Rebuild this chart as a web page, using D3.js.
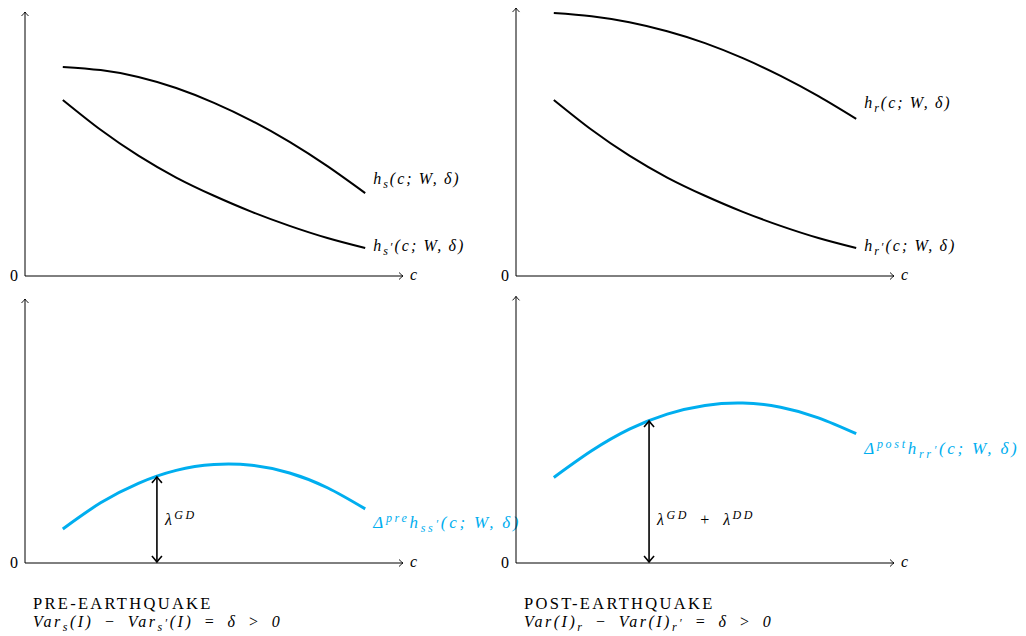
<!DOCTYPE html>
<html>

<head>
    <meta charset="utf-8">
    <script src="https://d3js.org/d3.v7.min.js"></script>
    <style>
        body { margin: 0; background: #fff; }
        svg text {
            font-family: "Liberation Serif", serif;
            font-size: 16px;
            fill: #000;
        }
        .math { font-style: italic; letter-spacing: 2px; }
        .blue { fill: #00aeef; font-size: 17px; letter-spacing: 2.7px; }
        .caption { font-size: 16.5px; letter-spacing: 2.3px; }
        .wide { letter-spacing: 2.5px; }
    </style>
</head>

<body>
    <div id="my_dataviz"></div>
    <script>

        // c values where all curves are read
        const cs = [1, 2, 3, 4, 5, 6, 7, 8, 9];

        // top panels (h functions)
        const hS = [7.92, 7.80, 7.54, 7.12, 6.56, 5.88, 5.08, 4.16, 3.14];
        const hSp = [6.67, 5.54, 4.56, 3.73, 3.04, 2.43, 1.90, 1.44, 1.06];
        const hR = [9.96, 9.84, 9.61, 9.27, 8.82, 8.25, 7.58, 6.81, 5.95];
        const hRp = [6.67, 5.54, 4.56, 3.73, 3.04, 2.43, 1.90, 1.44, 1.06];

        // bottom panels (differences)
        const dPre = [1.29, 2.28, 3.02, 3.51, 3.73, 3.70, 3.41, 2.85, 2.05];
        const dPost = [3.24, 4.25, 5.07, 5.64, 5.97, 6.06, 5.90, 5.50, 4.90];

        // gap arrows: [c, value]
        const gapPre = [3.49, 3.3];
        const gapPost = [3.52, 5.42];

        const width = 1026, height = 636;
        const pw = 378, ph = 264;
        const sp = "\u2002"; // operator spacing

        const svg = d3.select("#my_dataviz")
            .append("svg")
            .attr("width", width)
            .attr("height", height);

        const defs = svg.append("defs");
        defs.append("marker")
            .attr("id", "tip")
            .attr("viewBox", "-6 -5 8 10")
            .attr("markerWidth", 8).attr("markerHeight", 10)
            .attr("markerUnits", "userSpaceOnUse")
            .attr("orient", "auto")
            .append("path")
            .attr("d", "M-4,-3.5 Q-1.5,-1 0,0 Q-1.5,1 -4,3.5")
            .attr("fill", "none").attr("stroke", "#000").attr("stroke-width", 0.9);
        defs.append("marker")
            .attr("id", "bigtip")
            .attr("viewBox", "-8 -6 10 12")
            .attr("markerWidth", 10).attr("markerHeight", 12)
            .attr("markerUnits", "userSpaceOnUse")
            .attr("orient", "auto-start-reverse")
            .append("path")
            .attr("d", "M-6,-5 Q-2,-1.5 0,0 Q-2,1.5 -6,5")
            .attr("fill", "none").attr("stroke", "#000").attr("stroke-width", 1.6);

        const x = d3.scaleLinear().domain([0, 10]).range([0, pw]);
        const y = d3.scaleLinear().domain([0, 10]).range([ph, 0]);

        const line = d3.line()
            .x(d => x(d[0]))
            .y(d => y(d[1]))
            .curve(d3.curveNatural);

        function panel(x0, oy, yMax) {
            const g = svg.append("g").attr("transform", `translate(${x0}, ${oy - ph})`);
            g.append("line")
                .attr("x1", x(0)).attr("y1", y(0)).attr("x2", x(0)).attr("y2", y(yMax))
                .attr("stroke", "#000").attr("stroke-width", 1).attr("marker-end", "url(#tip)");
            g.append("line")
                .attr("x1", x(0)).attr("y1", y(0)).attr("x2", x(10)).attr("y2", y(0))
                .attr("stroke", "#000").attr("stroke-width", 1).attr("marker-end", "url(#tip)");
            g.append("text").attr("x", x(0) - 7).attr("y", y(0) + 5)
                .attr("text-anchor", "end").attr("font-size", 15).text("0");
            g.append("text").attr("class", "math")
                .attr("x", x(10) + 7).attr("y", y(0) + 4).attr("font-size", 15).text("c");
            return g;
        }

        function curve(g, v, color, w) {
            g.append("path")
                .datum(cs.map((d, i) => [d, v[i]]))
                .attr("d", line)
                .attr("fill", "none")
                .attr("stroke", color)
                .attr("stroke-width", w);
        }

        // label made of parts: [text, shift] shift: 0 normal, 1 sub, -1 sup, 2 prime on sub
        function label(g, px, py, parts, cls) {
            const t = g.append("text").attr("x", px).attr("y", py).attr("class", "math " + (cls || ""));
            let cur = 0;
            const off = { 0: 0, 1: 4, 2: 0, "-1": -6 };
            parts.forEach(p => {
                const s = p[1];
                const ts = t.append("tspan").text(p[0])
                    .attr("dy", off[s] - off[cur]);
                if (s !== 0) ts.attr("font-size", 12);
                cur = s;
            });
            return t;
        }

        function gap(g, gp) {
            g.append("line")
                .attr("x1", x(gp[0])).attr("y1", y(0) - 1)
                .attr("x2", x(gp[0])).attr("y2", y(gp[1]) + 1)
                .attr("stroke", "#000").attr("stroke-width", 1.6)
                .attr("marker-start", "url(#bigtip)")
                .attr("marker-end", "url(#bigtip)");
        }

        const args = "(c;\u2009W,\u2009δ)";
        const last = a => a[a.length - 1];

        // top left
        const g1 = panel(25, 276, 10);
        curve(g1, hS, "#000", 2);
        curve(g1, hSp, "#000", 2);
        label(g1, x(9) + 8, y(last(hS)) - 9, [["h", 0], ["s", 1], [args, 0]]);
        label(g1, x(9) + 8, y(last(hSp)) + 3, [["h", 0], ["s", 1], ["′", 2], [args, 0]]);

        // top right
        const g2 = panel(516, 276, 10.15);
        curve(g2, hR, "#000", 2);
        curve(g2, hRp, "#000", 2);
        label(g2, x(9) + 8, y(last(hR)) - 11, [["h", 0], ["r", 1], [args, 0]]);
        label(g2, x(9) + 8, y(last(hRp)) + 3, [["h", 0], ["r", 1], ["′", 2], [args, 0]]);

        // bottom left
        const g3 = panel(25, 563, 10);
        curve(g3, dPre, "#00aeef", 3);
        gap(g3, gapPre);
        label(g3, x(9) + 8, y(last(dPre)) + 19, [["Δ", 0], ["pre", -1], ["h", 0], ["ss", 1], ["′", 2], [args, 0]], "blue");
        label(g3, x(gapPre[0]) + 8, y(gapPre[1] / 2) + 6, [["λ", 0], ["GD", -1]], "wide");

        // bottom right
        const g4 = panel(516, 563, 10.1);
        curve(g4, dPost, "#00aeef", 3);
        gap(g4, gapPost);
        label(g4, x(9) + 8, y(last(dPost)) + 20, [["Δ", 0], ["post", -1], ["h", 0], ["rr", 1], ["′", 2], [args, 0]], "blue");
        label(g4, x(gapPost[0]) + 8, y(gapPost[1] * 0.31) + 6, [["λ", 0], ["GD", -1], [sp + "+" + sp + "λ", 0], ["DD", -1]], "wide");

        // captions
        svg.append("text").attr("class", "caption").attr("x", 33).attr("y", 609).text("PRE-EARTHQUAKE");
        label(svg, 33, 627, [["Var", 0], ["s", 1], ["(I)" + sp + "−" + sp + "Var", 0], ["s", 1], ["′", 2], ["(I)" + sp + "=" + sp + "δ" + sp + ">" + sp + "0", 0]], "wide");
        svg.append("text").attr("class", "caption").attr("x", 524).attr("y", 609).text("POST-EARTHQUAKE");
        label(svg, 524, 627, [["Var(I)", 0], ["r", 1], [sp + "−" + sp + "Var(I)", 0], ["r", 1], ["′", 2], [sp + "=" + sp + "δ" + sp + ">" + sp + "0", 0]], "wide");

    </script>
</body>

</html>
